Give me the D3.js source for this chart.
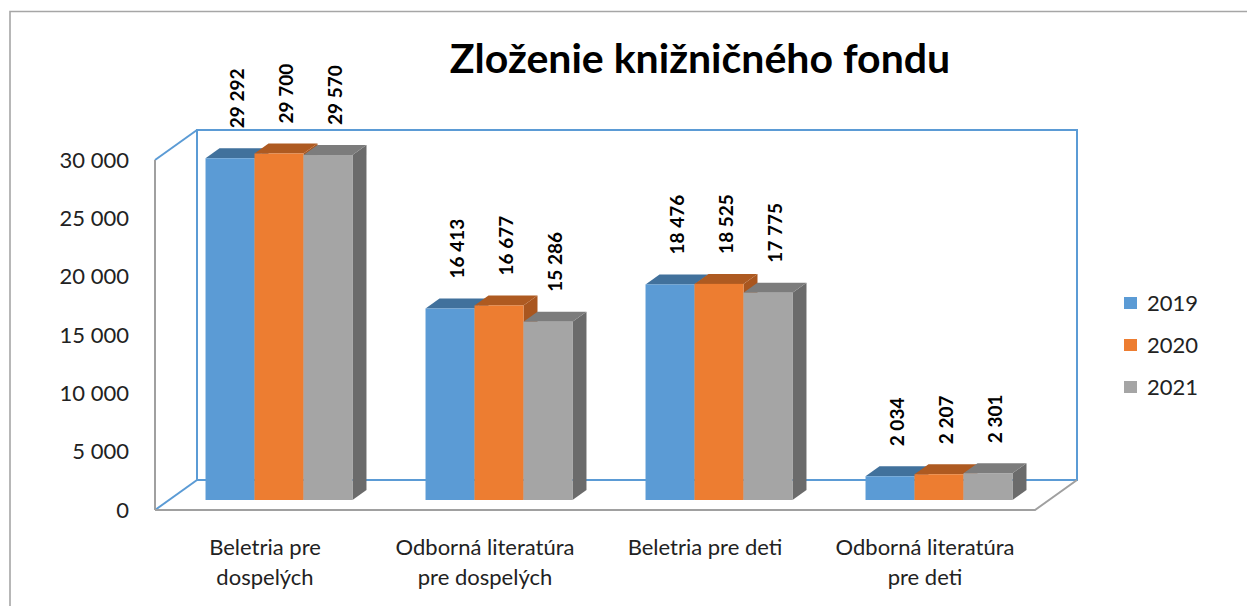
<!DOCTYPE html>
<html>
<head>
<meta charset="utf-8">
<script src="https://cdn.jsdelivr.net/npm/d3@7"></script>
<style>
  body { margin: 0; background: #fff; }
  svg { display: block; font-family: Lato, "Liberation Sans", sans-serif; }
</style>
</head>
<body>
<div class="canvas"></div>
<script>
// data
const categories = [["Beletria pre", "dospelých"], ["Odborná literatúra", "pre dospelých"], ["Beletria pre deti"], ["Odborná literatúra", "pre deti"]];
const years = ["2019", "2020", "2021"];
const values2019 = [29292, 16413, 18476, 2034];
const values2020 = [29700, 16677, 18525, 2207];
const values2021 = [29570, 15286, 17775, 2301];
const yTicks = [0, 5000, 10000, 15000, 20000, 25000, 30000];

const series = [values2019, values2020, values2021];
const front = ["#5B9BD5", "#ED7D31", "#A5A5A5"];
const topC = ["#41719C", "#AE5A21", "#7C7C7C"];
const sideC = ["#3F6C96", "#A9561F", "#6B6B6B"];

const W = 1247, H = 606;
const svg = d3.select(".canvas").append("svg").attr("width", W).attr("height", H);

const fmt = d3.formatLocale({ decimal: ",", thousands: "\u00a0", grouping: [3] }).format(",d");

// outer border
svg.append("path")
    .attr("d", "M10,606 L10,11.5 L1247,11.5")
    .attr("fill", "none").attr("stroke", "#A6A6A6").attr("stroke-width", 1.6);

// 3d frame
const x0 = 155, x1 = 1035, yBase = 510, yTop = 160;
const DX = 42, DY = -30;        // full depth offset
const bt0 = 1 / 3, bt1 = 2 / 3; // bar depth (fraction)

const y = d3.scaleLinear().domain([0, 30000]).range([yBase, yTop]);
const xCat = d3.scaleBand().domain(d3.range(categories.length)).range([x0, x1])
    .paddingInner(0.332).paddingOuter(0.166);
const xYear = d3.scaleBand().domain(d3.range(years.length)).range([0, xCat.bandwidth()]);

const blue = "#5B9BD5", grey = "#A0A0A0";
const frame = svg.append("g").attr("fill", "none").attr("stroke-width", 2);
// back wall
frame.append("rect").attr("x", x0 + DX).attr("y", yTop + DY)
    .attr("width", x1 - x0).attr("height", yBase - yTop).attr("stroke", blue);
// left wall diagonals
frame.append("path").attr("d", `M${x0},${yTop} L${x0 + DX},${yTop + DY}`).attr("stroke", blue);
frame.append("path").attr("d", `M${x0},${yBase} L${x0 + DX},${yBase + DY}`).attr("stroke", blue);
// floor front / right
frame.append("path").attr("d", `M${x0},${yBase} L${x1},${yBase} L${x1 + DX},${yBase + DY}`).attr("stroke", grey);

// bars
const bars = svg.append("g");
categories.forEach((c, ci) => {
  years.forEach((yr, si) => {
    const v = series[si][ci];
    const xl = xCat(ci) + xYear(si) + DX * bt0;
    const xr = xl + xYear.bandwidth();
    const yb = yBase + DY * bt0;
    const yt = y(v) + DY * bt0;
    const ddx = DX * (bt1 - bt0), ddy = DY * (bt1 - bt0);
    bars.append("path")
        .attr("d", `M${xr},${yt} L${xr + ddx},${yt + ddy} L${xr + ddx},${yb + ddy} L${xr},${yb} Z`)
        .attr("fill", sideC[si]);
    bars.append("path")
        .attr("d", `M${xl},${yt} L${xl + ddx},${yt + ddy} L${xr + ddx},${yt + ddy} L${xr},${yt} Z`)
        .attr("fill", topC[si]);
    bars.append("rect")
        .attr("x", xl).attr("y", yt).attr("width", xr - xl).attr("height", yb - yt)
        .attr("fill", front[si]);
    // value label
    const lx = (xl + xr) / 2 + DX * (bt1 - bt0) / 2;
    const ly = y(v) + DY * bt1 - 20;
    bars.append("text")
        .attr("transform", `translate(${lx},${ly}) rotate(-90)`)
        .attr("dy", "0.35em")
        .attr("font-size", 19).attr("font-weight", "bold").attr("fill", "#000")
        .text(fmt(v));
  });
});

// y axis labels
const yAxis = svg.append("g").attr("transform", `translate(${x0},0)`)
    .call(d3.axisLeft(y).tickValues(yTicks).tickSize(0).tickPadding(26).tickFormat(fmt));
yAxis.select(".domain").remove();
yAxis.selectAll("text").attr("font-size", 22).attr("fill", "#222").attr("font-family", "Lato, sans-serif");
frame.append("path").attr("d", `M${x0},${yTop} L${x0},${yBase}`).attr("stroke", grey);

// category labels
const catG = svg.append("g");
categories.forEach((lines, ci) => {
  const t = catG.append("text")
      .attr("x", xCat(ci) + xCat.bandwidth() / 2)
      .attr("y", 555)
      .attr("text-anchor", "middle").attr("font-size", 22).attr("fill", "#222");
  lines.forEach((l, li) => t.append("tspan")
      .attr("x", xCat(ci) + xCat.bandwidth() / 2).attr("dy", li ? 30 : 0).text(l));
});

// legend
const lg = svg.append("g");
years.forEach((yr, i) => {
  const cy = 303 + i * 42;
  lg.append("rect").attr("x", 1124).attr("y", cy - 6).attr("width", 13).attr("height", 12).attr("fill", front[i]);
  lg.append("text").attr("x", 1147).attr("y", cy).attr("dy", "0.36em")
      .attr("font-size", 22).attr("fill", "#222").text(yr);
});

// title
svg.append("text").attr("x", 700).attr("y", 73).attr("text-anchor", "middle")
    .attr("font-size", 41).attr("font-weight", "bold").attr("fill", "#000")
    .text("Zloženie knižničného fondu");
</script>
</body>
</html>
